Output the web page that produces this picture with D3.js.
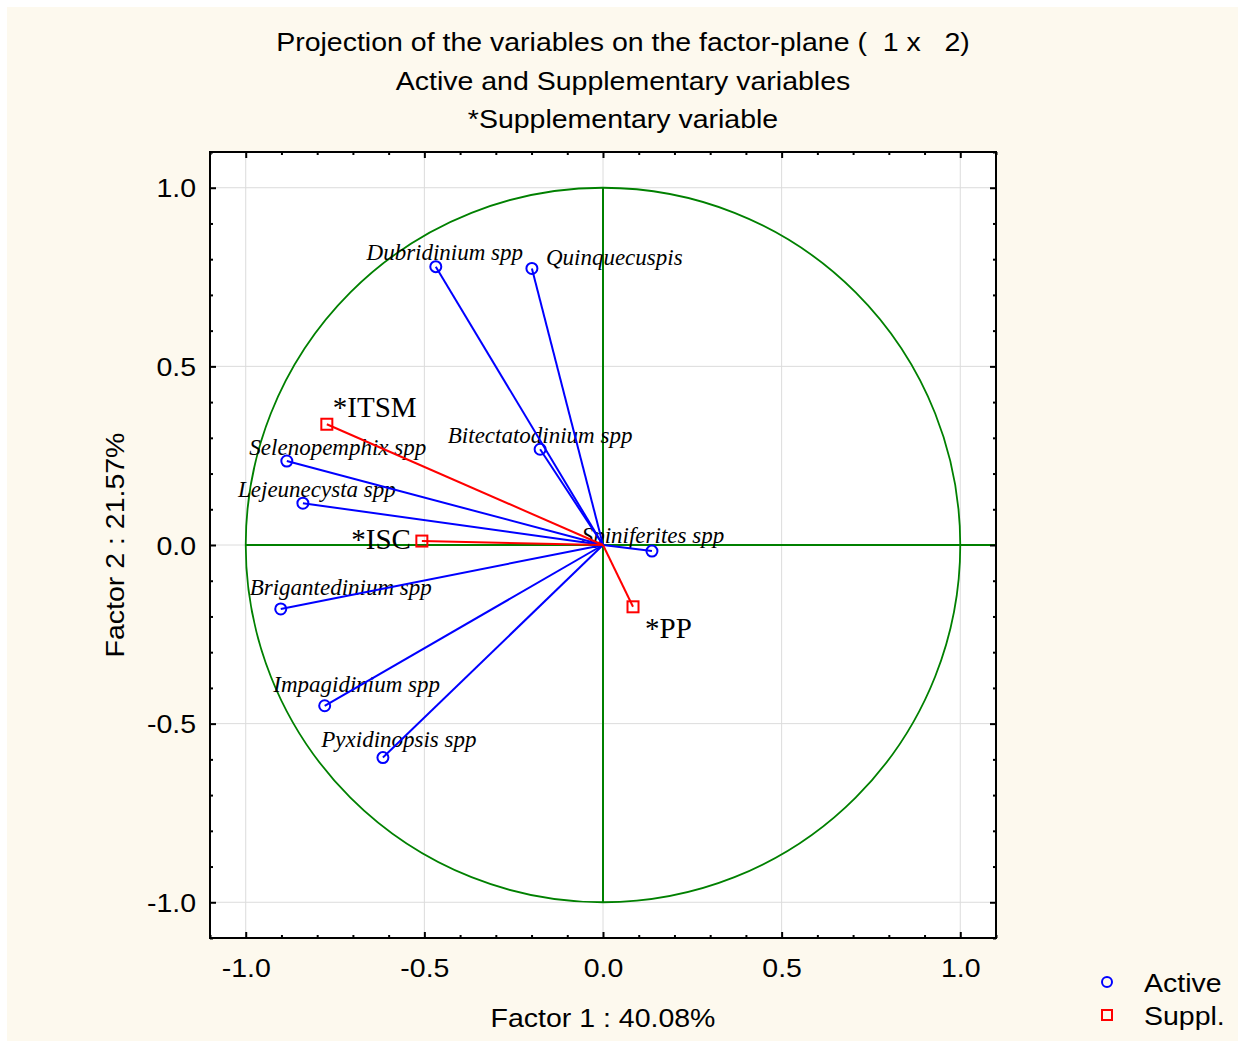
<!DOCTYPE html>
<html>
<head>
<meta charset="utf-8">
<script src="https://cdn.jsdelivr.net/npm/d3@7"></script>
<style>
  html, body { margin: 0; padding: 0; background: #ffffff; }
  svg { display: block; }
</style>
</head>
<body>
<svg id="chart" width="1238" height="1041"></svg>
<script>
// Factor loadings of the active variables (factor 1, factor 2)
const activeNames = ["Dubridinium spp", "Quinquecuspis", "Bitectatodinium spp", "Selenopemphix spp",
  "Lejeunecysta spp", "Spiniferites spp", "Brigantedinium spp", "Impagidinium spp", "Pyxidinopsis spp"];
const activeF1 = [-0.468, -0.199, -0.176, -0.885, -0.840, 0.137, -0.902, -0.779, -0.616];
const activeF2 = [0.779, 0.774, 0.268, 0.235, 0.117, -0.017, -0.179, -0.450, -0.595];

// Supplementary variables projected on the same plane
const supplNames = ["*ITSM", "*ISC", "*PP"];
const supplF1 = [-0.773, -0.507, 0.084];
const supplF2 = [0.338, 0.011, -0.173];

const tickValues = [-1.0, -0.5, 0.0, 0.5, 1.0];
const titleLines = ["Projection of the variables on the factor-plane (  1 x   2)",
  "Active and Supplementary variables", "*Supplementary variable"];
const xTitle = "Factor 1 : 40.08%";
const yTitle = "Factor 2 : 21.57%";
const legendItems = ["Active", "Suppl."];

// Label placement relative to each marker: [dx, dy, anchor]
const activeLabelPos = {
  "Dubridinium spp": [9, -7, "middle"],
  "Quinquecuspis": [14, -3, "start"],
  "Bitectatodinium spp": [0, -6, "middle"],
  "Selenopemphix spp": [51, -6, "middle"],
  "Lejeunecysta spp": [14, -6, "middle"],
  "Spiniferites spp": [1, -8, "middle"],
  "Brigantedinium spp": [60, -14, "middle"],
  "Impagidinium spp": [32, -14, "middle"],
  "Pyxidinopsis spp": [16, -11, "middle"]
};
const supplLabelPos = {
  "*ITSM": [6, -7, "start"],
  "*ISC": [-11, 8, "end"],
  "*PP": [12, 31, "start"]
};

const svg = d3.select("#chart");
const W = 1238, H = 1041;
const sans = "Liberation Sans, Arial, sans-serif";
const serif = "Liberation Serif, Times New Roman, serif";
const STRETCH = 1.14;   // the sans text is set slightly wide

// page background
svg.append("rect").attr("x", 0).attr("y", 0).attr("width", W).attr("height", H).attr("fill", "#ffffff");
svg.append("rect").attr("x", 7).attr("y", 7).attr("width", W - 7).attr("height", H - 7).attr("fill", "#fdf9ee");

const plot = { left: 210, top: 152, right: 996, bottom: 938 };
const x = d3.scaleLinear().domain([-1.1, 1.1]).range([plot.left, plot.right]);
const y = d3.scaleLinear().domain([-1.1, 1.1]).range([plot.bottom, plot.top]);

// stretched sans-serif text placed at (px, py)
function wideText(parent, px, py, str, size, anchor, extra) {
  return parent.append("text")
    .attr("transform", `translate(${px},${py}) ${extra || ""} scale(${STRETCH},1)`)
    .attr("text-anchor", anchor || "middle")
    .attr("font-family", sans).attr("font-size", size).attr("fill", "#000")
    .attr("xml:space", "preserve")
    .text(str);
}

// plot area
svg.append("rect").attr("x", plot.left).attr("y", plot.top)
  .attr("width", plot.right - plot.left).attr("height", plot.bottom - plot.top)
  .attr("fill", "#ffffff");

// grid lines
const grid = svg.append("g");
tickValues.forEach(v => {
  grid.append("line").attr("x1", x(v)).attr("x2", x(v)).attr("y1", plot.top).attr("y2", plot.bottom)
    .attr("stroke", "#dcdcdc").attr("stroke-width", 1);
  grid.append("line").attr("y1", y(v)).attr("y2", y(v)).attr("x1", plot.left).attr("x2", plot.right)
    .attr("stroke", "#dcdcdc").attr("stroke-width", 1);
});

// unit circle and axes through the origin
const green = "#008000";
svg.append("circle").attr("cx", x(0)).attr("cy", y(0)).attr("r", x(1) - x(0))
  .attr("fill", "none").attr("stroke", green).attr("stroke-width", 1.8);
svg.append("line").attr("x1", x(-1)).attr("x2", plot.right).attr("y1", y(0)).attr("y2", y(0))
  .attr("stroke", green).attr("stroke-width", 2);
svg.append("line").attr("x1", x(0)).attr("x2", x(0)).attr("y1", y(1)).attr("y2", y(-1))
  .attr("stroke", green).attr("stroke-width", 2);

// axes with inward ticks (major every 0.5, minor every 0.1)
const minor = d3.range(-11, 12).map(i => i / 10).filter(v => Math.abs(v * 2 - Math.round(v * 2)) > 1e-6);
const fmt = v => v.toFixed(1);
function addAxis(axisGen, tx, ty) {
  const g = svg.append("g").attr("transform", `translate(${tx},${ty})`).call(axisGen);
  g.select(".domain").remove();
  g.selectAll(".tick line").attr("stroke", "#000").attr("stroke-width", 2);
  return g;
}
const xAx = addAxis(d3.axisBottom(x).tickValues(tickValues).tickSize(-6).tickFormat(fmt), 0, plot.bottom);
xAx.selectAll(".tick text").attr("y", 0).attr("dy", 0)
  .attr("transform", `translate(0,39) scale(${STRETCH},1)`)
  .attr("font-family", sans).attr("font-size", 25).attr("fill", "#000");
addAxis(d3.axisBottom(x).tickValues(minor).tickSize(-3).tickFormat(""), 0, plot.bottom);
addAxis(d3.axisTop(x).tickValues(tickValues).tickSize(-6).tickFormat(""), 0, plot.top);
addAxis(d3.axisTop(x).tickValues(minor).tickSize(-3).tickFormat(""), 0, plot.top);
const yAx = addAxis(d3.axisLeft(y).tickValues(tickValues).tickSize(-6).tickFormat(fmt), plot.left, 0);
yAx.selectAll(".tick text").attr("x", 0).attr("dy", 0)
  .attr("transform", `translate(-14,9) scale(${STRETCH},1)`)
  .attr("font-family", sans).attr("font-size", 25).attr("fill", "#000");
addAxis(d3.axisLeft(y).tickValues(minor).tickSize(-3).tickFormat(""), plot.left, 0);
addAxis(d3.axisRight(y).tickValues(tickValues).tickSize(-6).tickFormat(""), plot.right, 0);
addAxis(d3.axisRight(y).tickValues(minor).tickSize(-3).tickFormat(""), plot.right, 0);

// frame
svg.append("rect").attr("x", plot.left).attr("y", plot.top)
  .attr("width", plot.right - plot.left).attr("height", plot.bottom - plot.top)
  .attr("fill", "none").attr("stroke", "#000").attr("stroke-width", 2);

const active = activeNames.map((n, i) => ({ name: n, f1: activeF1[i], f2: activeF2[i] }));
const suppl = supplNames.map((n, i) => ({ name: n, f1: supplF1[i], f2: supplF2[i] }));

// variable labels (drawn beneath the vectors)
svg.append("g").selectAll("text").data(active).join("text")
  .attr("x", d => x(d.f1) + activeLabelPos[d.name][0])
  .attr("y", d => y(d.f2) + activeLabelPos[d.name][1])
  .attr("text-anchor", d => activeLabelPos[d.name][2])
  .attr("font-family", serif)
  .attr("font-style", "italic").attr("font-size", 23).attr("fill", "#000")
  .text(d => d.name);
svg.append("g").selectAll("text").data(suppl).join("text")
  .attr("x", d => x(d.f1) + supplLabelPos[d.name][0])
  .attr("y", d => y(d.f2) + supplLabelPos[d.name][1])
  .attr("text-anchor", d => supplLabelPos[d.name][2])
  .attr("font-family", serif)
  .attr("font-size", 29).attr("fill", "#000")
  .text(d => d.name);

// vectors from the origin
svg.append("g").selectAll("line").data(active).join("line")
  .attr("x1", x(0)).attr("y1", y(0)).attr("x2", d => x(d.f1)).attr("y2", d => y(d.f2))
  .attr("stroke", "#0000ff").attr("stroke-width", 2);
svg.append("g").selectAll("line").data(suppl).join("line")
  .attr("x1", x(0)).attr("y1", y(0)).attr("x2", d => x(d.f1)).attr("y2", d => y(d.f2))
  .attr("stroke", "#ff0000").attr("stroke-width", 2);

// markers
svg.append("g").selectAll("circle").data(active).join("circle")
  .attr("cx", d => x(d.f1)).attr("cy", d => y(d.f2)).attr("r", 5.5)
  .attr("fill", "none").attr("stroke", "#0000ff").attr("stroke-width", 2);
svg.append("g").selectAll("rect").data(suppl).join("rect")
  .attr("x", d => x(d.f1) - 5.5).attr("y", d => y(d.f2) - 5.5).attr("width", 11).attr("height", 11)
  .attr("fill", "none").attr("stroke", "#ff0000").attr("stroke-width", 2);

// titles
titleLines.forEach((line, i) => wideText(svg, 623, 51 + i * 38.5, line, 25, "middle"));
wideText(svg, (plot.left + plot.right) / 2, 1027, xTitle, 25, "middle");
wideText(svg, 124, (plot.top + plot.bottom) / 2, yTitle, 25, "middle", "rotate(-90)");

// legend
const legend = svg.append("g");
legendItems.forEach((name, i) => {
  const cy = 982 + i * 33;
  if (i === 0) {
    legend.append("circle").attr("cx", 1107).attr("cy", cy).attr("r", 5)
      .attr("fill", "none").attr("stroke", "#0000ff").attr("stroke-width", 2);
  } else {
    legend.append("rect").attr("x", 1102).attr("y", cy - 5).attr("width", 10).attr("height", 10)
      .attr("fill", "none").attr("stroke", "#ff0000").attr("stroke-width", 2);
  }
  wideText(legend, 1144, cy + 10, name, 25, "start");
});
</script>
</body>
</html>
